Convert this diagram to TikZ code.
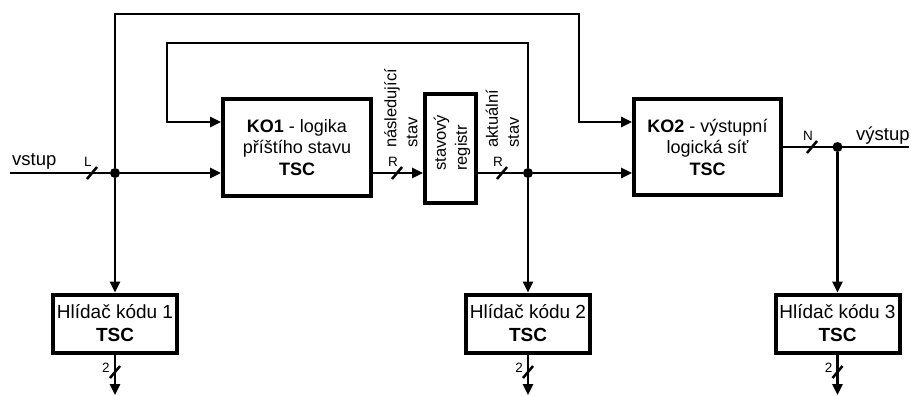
\documentclass[tikz,border=0pt]{standalone}
\usepackage{fontspec}
\setmainfont{Liberation Sans}
\usetikzlibrary{arrows.meta,positioning,calc}
\tikzset{
  hbus/.pic={\draw[line width=2.5pt] (-5,6) -- (5,-6);
             \node[inner sep=0pt, font=\fontsize{13.5}{13.5}\selectfont] (-lbl) at (-4,-11) {#1};},
  vbus/.pic={\draw[line width=2.5pt] (-5,6) -- (5,-6);
             \node[inner sep=0pt, font=\fontsize{13.5}{13.5}\selectfont] (-lbl) at (-9,-4) {#1};}
}

\begin{document}
\begin{tikzpicture}[x=1pt, y=-1pt, >={Triangle[length=11pt,width=10pt]},
    sig/.style={line width=2.5pt},
    blok/.style={draw, line width=4pt, align=center, inner sep=0pt,
                 font=\fontsize{18}{21.5}\selectfont},
    hlidac/.style={blok, minimum width=124pt, minimum height=58pt,
                   font=\fontsize{19}{23}\selectfont},
    vtext/.style={rotate=90, anchor=west, align=left, inner sep=0pt,
                  font=\fontsize{16.5}{21}\selectfont},
    txt/.style={anchor=base west, inner sep=0pt, font=\fontsize{18.5}{21}\selectfont},
    dot/.style={circle, fill, inner sep=0pt, minimum size=10pt}]
    \useasboundingbox (0,0) rectangle (911,396);
    % --- blocks ---
    \node[blok, minimum width=148pt, minimum height=97pt] (ko1) at (297,147.5)
      {\textbf{KO1} - logika\\příštího stavu\\\textbf{TSC}};
    \node[draw, line width=4pt, inner sep=0pt, minimum width=51pt,
          minimum height=109pt] (reg) at (450.5,148.5) {};
    \node[vtext] (regtxt) at (452,171) {stavový\\registr};
    \node[blok, minimum width=147pt, minimum height=96pt] (ko2) at (707.5,147)
      {\textbf{KO2} - výstupní\\logická síť\\\textbf{TSC}};
    \node[hlidac] (h1) at (115,323.5) {Hlídač kódu 1\\\textbf{TSC}};
    \node[hlidac] (h2) at (528,323.5) {Hlídač kódu 2\\\textbf{TSC}};
    \node[hlidac] (h3) at (837.5,323.5) {Hlídač kódu 3\\\textbf{TSC}};
    % --- junctions and free ends ---
    \node[dot] (j1) at (115,173) {};
    \node[dot] (j2) at (528,173) {};
    \node[dot] (j3) at (837.5,147) {};
    \coordinate (vin) at (10,173);
    \coordinate (vout) at (909,147);
    \coordinate (fb) at (0,122);
    \coordinate (bot) at (0,395);
    % --- texts ---
    \node[txt] (vstup) at (12,165) {vstup};
    \node[txt] (vystup) at (856,140) {výstup};
    \node[vtext] (nasl) at (401,148) {následující\\stav};
    \node[vtext] (akt) at (502.5,148) {aktuální\\stav};
    % --- main signal path ---
    \draw[sig] (vin) -- (j1);
    \draw[sig,->] (j1) -- (ko1.west |- j1);
    \draw[sig,->] (ko1.east |- j1) -- (reg.west |- j1);
    \draw[sig] (reg.east |- j1) -- (j2);
    \draw[sig,->] (j2) -- (ko2.west |- j2);
    \draw[sig] (ko2.east |- j3) -- (vout);
    % --- feedback loops ---
    \coordinate (o1) at (115,14);
    \coordinate (o2) at (579,14);
    \draw[sig,->] (j1) -- (o1) -- (o2) |- (ko2.west |- fb);
    \coordinate (i1) at (167,43);
    \coordinate (i2) at (528,43);
    \draw[sig,->] (j2) -- (i2) -- (i1) |- (ko1.west |- fb);
    % --- code checkers ---
    \draw[sig,->] (j1) -- (h1.north);
    \draw[sig,->] (j2) -- (h2.north);
    \draw[sig,->] (j3) -- (h3.north);
    \draw[sig,->] (h1.south) -- (h1.south |- bot);
    \draw[sig,->] (h2.south) -- (h2.south |- bot);
    \draw[sig,->] (h3.south) -- (h3.south |- bot);
    % --- bus widths ---
    \pic (bL) at (92,173) {hbus=L};
    \pic (bR1) at (397,173) {hbus=R};
    \pic (bR2) at (502,173) {hbus=R};
    \pic (bN) at (812,147) {hbus=N};
    \pic (b1) at (115,372) {vbus=2};
    \pic (b2) at (528,372) {vbus=2};
    \pic (b3) at (837.5,372) {vbus=2};
\end{tikzpicture}
\end{document}
